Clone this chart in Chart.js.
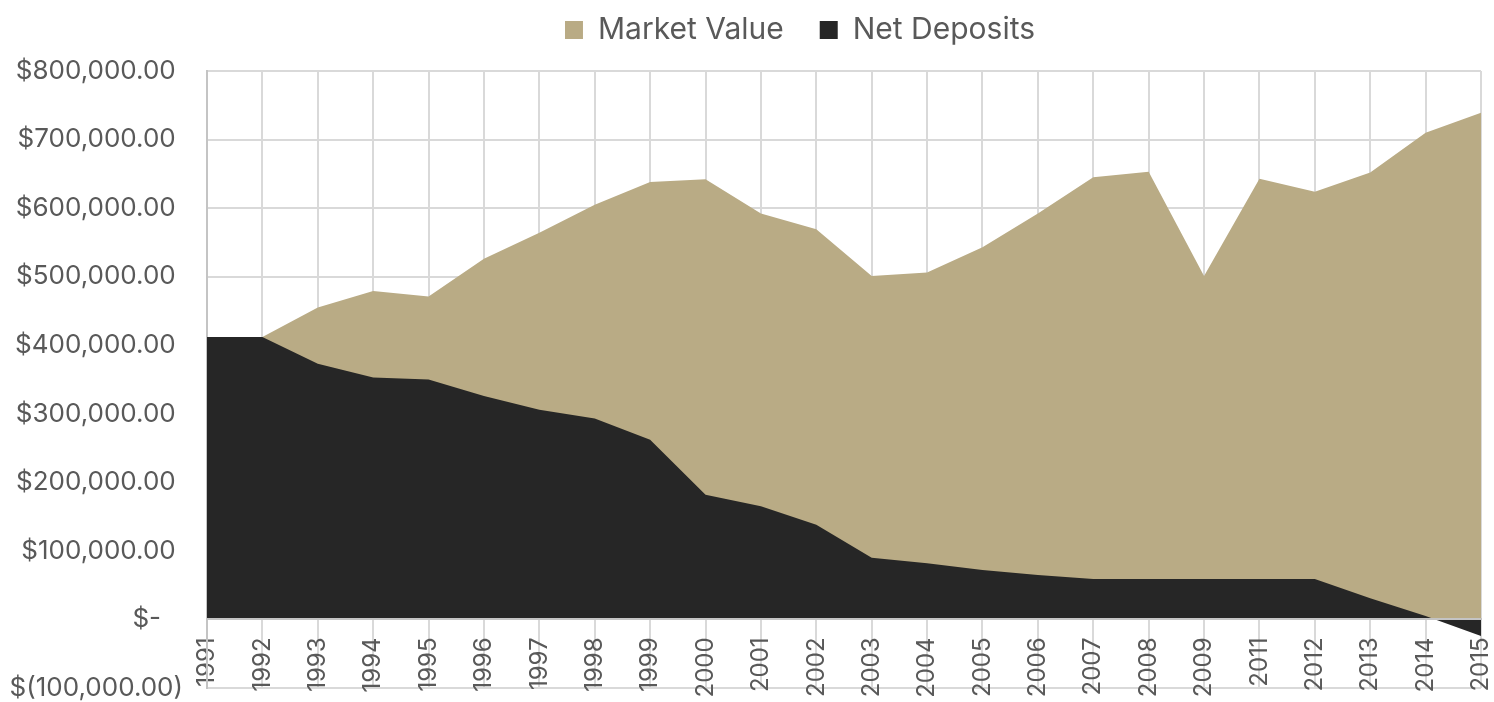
<!DOCTYPE html>
<html>
<head>
<meta charset="utf-8">
<script src="https://cdn.jsdelivr.net/npm/chart.js@4.4.1/dist/chart.umd.min.js"></script>
<style>
  html, body { margin: 0; padding: 0; background: #fff; }
  #wrap { width: 1494px; height: 702px; position: relative; }
</style>
</head>
<body>
<div id="wrap"><canvas id="valueChart"></canvas></div>
<script>
const years = ["1991", "1992", "1993", "1994", "1995", "1996", "1997", "1998", "1999", "2000",
    "2001", "2002", "2003", "2004", "2005", "2006", "2007", "2008", "2009", "2011",
    "2012", "2013", "2014", "2015"];

const marketValue = [412000, 412000, 455000, 479000, 471000, 526000, 564000, 605000, 638000, 642000,
    592000, 569000, 501000, 506000, 543000, 592000, 645000, 653000, 501000, 643000,
    624000, 652000, 710000, 739000];

const netDeposits = [412000, 412000, 373000, 353000, 350000, 326000, 306000, 293000, 262000, 182000,
    165000, 138000, 90000, 82000, 72000, 65000, 59000, 59000, 59000, 59000,
    59000, 31000, 5000, -24000];

const yMin = -100000;
const yMax = 800000;
const yStep = 100000;

const textGrey = "#595959";
const gridGrey = "#d9d9d9";

function money(v) {
    if (v === 0) return "$-   ";
    const s = Math.abs(v).toLocaleString("en-US", { minimumFractionDigits: 2, maximumFractionDigits: 2 });
    return v < 0 ? "$(" + s + ")" : "$" + s + " ";
}

// more room under the legend, and nudge it a bit to the right
const legendGap = {
    id: "legendGap",
    beforeInit(chart) {
        const fit = chart.legend.fit;
        chart.legend.fit = function () {
            fit.call(this);
            this.height += 16;
            if (this.lineWidths) this.lineWidths[0] -= 112;
        };
    }
};

const ctx = document.getElementById("valueChart").getContext("2d");

new Chart(ctx, {
    type: "line",
    data: {
        labels: years,
        datasets: [
            {
                label: "Net Deposits",
                data: netDeposits,
                borderWidth: 0,
                borderColor: "#262626",
                backgroundColor: "#262626",
                fill: "origin",
                pointRadius: 0,
                tension: 0
            },
            {
                label: "Market Value",
                data: marketValue,
                borderWidth: 0,
                borderColor: "#b9ab85",
                backgroundColor: "#b9ab85",
                fill: "origin",
                pointRadius: 0,
                tension: 0
            }
        ]
    },
    options: {
        responsive: true,
        maintainAspectRatio: false,
        animation: false,
        layout: { padding: { left: 7, right: 13, top: -21, bottom: 14 } },
        scales: {
            x: {
                position: { y: 0 },
                offset: false,
                afterFit: (scale) => { scale.paddingLeft = 0; scale.paddingRight = 0; },
                grid: { color: gridGrey, lineWidth: 2, drawTicks: false },
                border: { display: true, color: "#c4c4c4", width: 2, z: 1 },
                ticks: {
                    color: textGrey,
                    font: { family: "Inter", size: 24 },
                    minRotation: 90,
                    maxRotation: 90,
                    padding: 18,
                    autoSkip: false
                }
            },
            y: {
                min: yMin,
                max: yMax,
                afterFit: (scale) => { scale.width = 200; scale.paddingBottom = 0; scale.paddingTop = 0; },
                grid: { color: gridGrey, lineWidth: 2, drawTicks: false },
                border: { display: true, color: "#c4c4c4", width: 2 },
                ticks: {
                    stepSize: yStep,
                    color: textGrey,
                    font: { family: "Inter", size: 26 },
                    padding: 24,
                    callback: (value) => money(value)
                }
            }
        },
        plugins: {
            legend: {
                display: true,
                position: "top",
                reverse: true,
                labels: {
                    boxWidth: 18,
                    boxHeight: 18,
                    padding: 36,
                    color: textGrey,
                    font: { family: "Inter", size: 30 }
                }
            },
            tooltip: { enabled: false }
        }
    },
    plugins: [legendGap]
});
</script>
</body>
</html>
